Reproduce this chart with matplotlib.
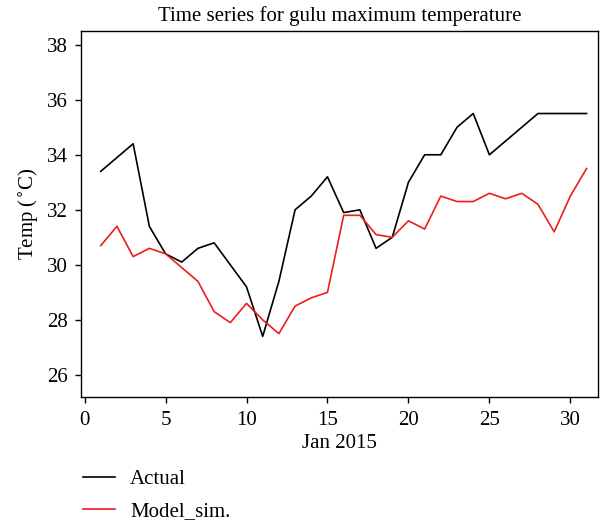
import matplotlib
matplotlib.use("Agg")
import matplotlib.pyplot as plt
from matplotlib.lines import Line2D

# ── data: Gulu daily maximum temperature, January 2015 ────────────
days = list(range(1, 32))
actual = [33.4, 33.9, 34.4, 31.4, 30.4, 30.1, 30.6, 30.8, 30.0, 29.2,
          27.4, 29.4, 32.0, 32.5, 33.2, 31.9, 32.0, 30.6, 31.0, 33.0,
          34.0, 34.0, 35.0, 35.5, 34.0, 34.5, 35.0, 35.5, 35.5, 35.5, 35.5]
model_sim = [30.7, 31.4, 30.3, 30.6, 30.4, 29.9, 29.4, 28.3, 27.9, 28.6,
             28.0, 27.5, 28.5, 28.8, 29.0, 31.8, 31.8, 31.1, 31.0, 31.6,
             31.3, 32.5, 32.3, 32.3, 32.6, 32.4, 32.6, 32.2, 31.2, 32.5, 33.5]
x_ticks = [0, 5, 10, 15, 20, 25, 30]
y_ticks = [26, 28, 30, 32, 34, 36, 38]

plt.rcParams["font.family"] = ["Liberation Serif", "DejaVu Serif"]

fig = plt.figure(figsize=(6.07, 5.25), dpi=100)
ax = fig.add_axes([0.134, 0.244, 0.851, 0.697])

ax.plot(days, actual, color="black", lw=1.2)
ax.plot(days, model_sim, color="#ee1c1c", lw=1.2)

ax.set_xlim(-0.2, 31.7)
ax.set_ylim(25.2, 38.5)
ax.set_xticks(x_ticks)
ax.set_yticks(y_ticks)
ax.tick_params(direction="out", length=4, width=1, labelsize=15,
               top=False, right=False, pad=6)
for s in ax.spines.values():
    s.set_linewidth(1.0)

ax.set_title("Time series for gulu maximum temperature", fontsize=15, pad=7)
ax.set_xlabel("Jan 2015", fontsize=15, labelpad=3)
ax.set_ylabel("Temp ($^{\\circ}$C)", fontsize=15, labelpad=4)

handles = [Line2D([], [], color="black", lw=1.2),
           Line2D([], [], color="#ee1c1c", lw=1.2)]
fig.legend(handles, ["Actual", "Model_sim."], loc="upper left",
           bbox_to_anchor=(0.137, 0.105), bbox_transform=fig.transFigure,
           frameon=False, fontsize=15, handlelength=1.55, handletextpad=0.7,
           labelspacing=0.6, borderaxespad=0, borderpad=0)

fig.savefig("out.png", dpi=100)
